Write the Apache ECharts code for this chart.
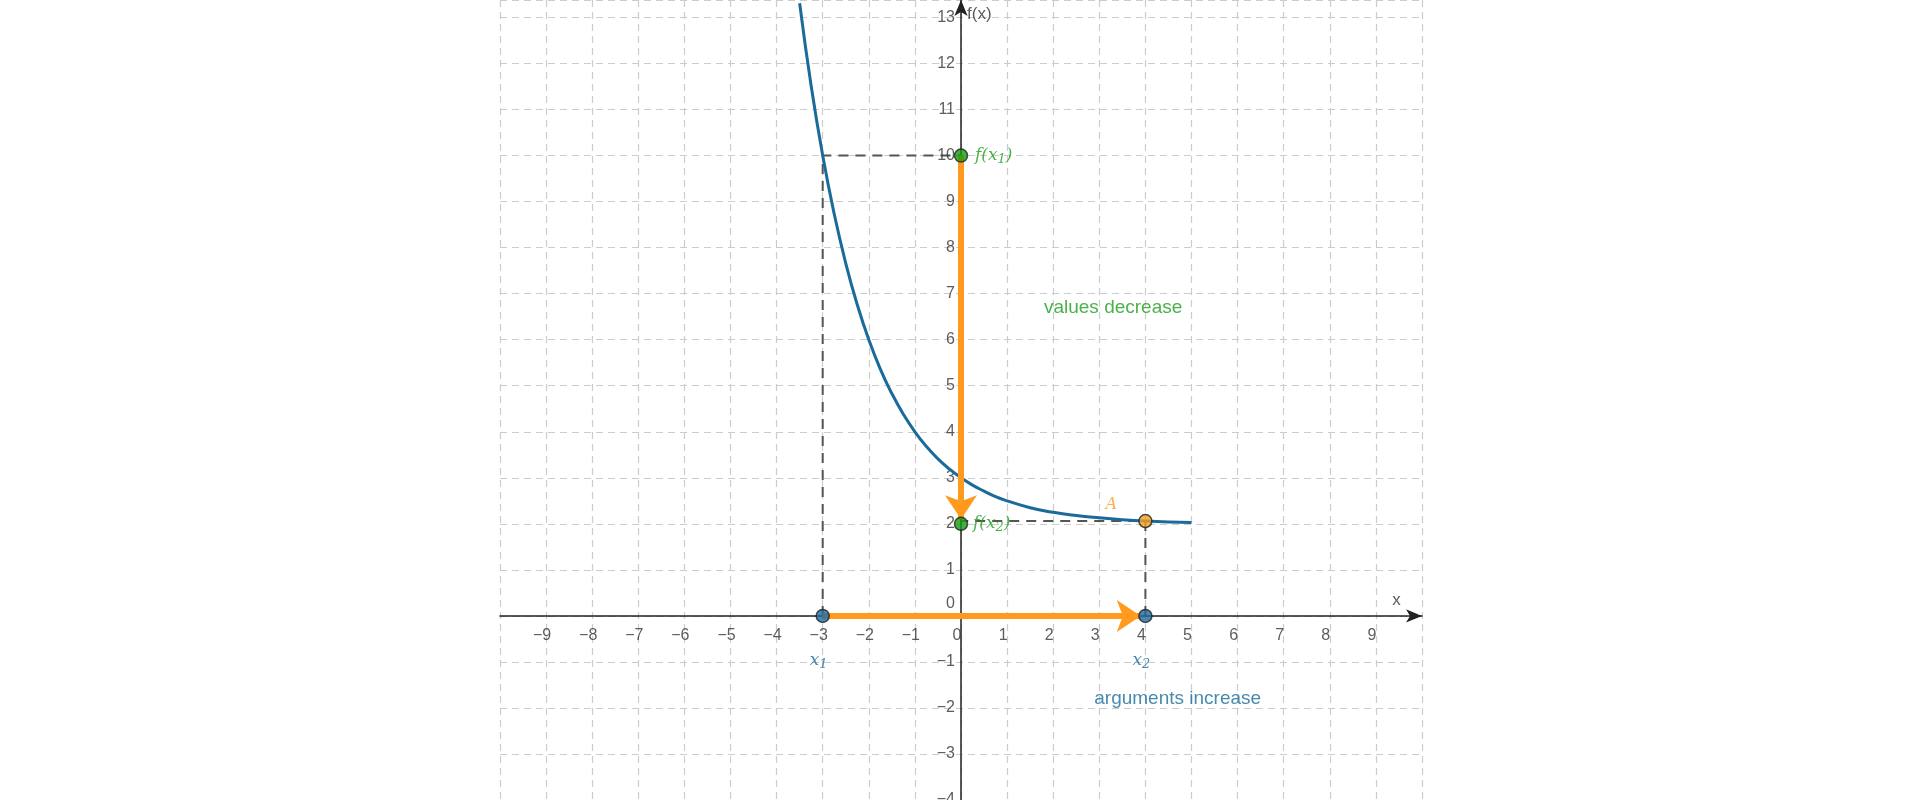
<!DOCTYPE html>
<html>
<head>
<meta charset="utf-8">
<title>f(x) decreasing</title>
<script src="https://cdn.jsdelivr.net/npm/echarts@6/dist/echarts.min.js"></script>
<style>html,body{margin:0;padding:0;background:#fff}#chart{width:1920px;height:800px}</style>
</head>
<body>
<div id="chart"></div>
<script>
// curve points
var curveX = [-3.5,-3.25,-3,-2.75,-2.5,-2.25,-2,-1.75,-1.5,-1.25,-1,-0.75,-0.5,-0.25,0,0.25,0.5,0.75,1,1.5,2,2.5,3,3.5,4,4.5,5];
var curveY = [13.31,11.51,10,8.73,7.66,6.76,6,5.36,4.83,4.38,4,3.68,3.41,3.19,3,2.84,2.71,2.59,2.5,2.35,2.25,2.18,2.13,2.09,2.06,2.04,2.03];
var xTicks = [-9,-8,-7,-6,-5,-4,-3,-2,-1,0,1,2,3,4,5,6,7,8,9];
var yTicks = [-4,-3,-2,-1,0,1,2,3,4,5,6,7,8,9,10,11,12,13];
var x1 = -3, x2 = 4;
var fx1 = 10, fx2 = 2.06;
var greenPts = [[0, fx1], [0, 2]];
var bluePts = [[x1, 0], [x2, 0]];
var pointA = [x2, fx2];

var blue = '#1a6b9a', orange = '#ff9a1f', green = '#1e9e1e';
var chart = echarts.init(document.getElementById('chart'));

function pts(list, color) {
  return { type: 'scatter', data: list, symbolSize: 13, z: 10,
    itemStyle: { color: color, borderColor: '#222', borderWidth: 1.5 } };
}
function num(v) { return v < 0 ? '\u2212' + (-v) : '' + v; }
var tickFont = { fontFamily: 'Liberation Sans', fontSize: 16, color: '#333' };
var sub = { fontStyle: 'italic', fontFamily: 'DejaVu Serif', fontSize: 13, verticalAlign: 'bottom', padding: [8, 0, 0, 0] };

chart.setOption({
  animation: false,
  grid: { left: 500, right: 498, top: 0, bottom: 0, containLabel: false, outerBoundsMode: 'none' },
  xAxis: {
    type: 'value', min: -10, max: 10, interval: 1,
    axisLine: { onZero: true, symbol: ['none', 'arrow'], symbolSize: [10, 16], lineStyle: { color: '#222', width: 1.5 } },
    axisTick: { show: false }, axisLabel: { show: false },
    splitLine: { lineStyle: { type: [7, 5], color: '#ccc', width: 1.2 } }
  },
  yAxis: {
    type: 'value', min: -4, max: 13.38, interval: 1,
    axisLine: { onZero: true, symbol: ['none', 'arrow'], symbolSize: [10, 16], lineStyle: { color: '#222', width: 1.5 } },
    axisTick: { show: false }, axisLabel: { show: false },
    splitLine: { lineStyle: { type: [7, 5], color: '#ccc', width: 1.2 } }
  },
  series: [
    { type: 'scatter', symbolSize: 0, silent: true, z: 3,
      data: xTicks.map(function (v) { return [v, 0]; }),
      label: Object.assign({ show: true, position: 'bottom', distance: 12, offset: [-4, 0],
        formatter: function (p) { return num(p.value[0]); } }, tickFont) },
    { type: 'scatter', symbolSize: 0, silent: true, z: 3,
      data: yTicks.filter(function (v) { return v !== 0; }).map(function (v) { return [0, v]; }),
      label: Object.assign({ show: true, position: 'left', distance: 6,
        formatter: function (p) { return num(p.value[1]); } }, tickFont) },
    { type: 'scatter', symbolSize: 0, silent: true, z: 3, data: [[0, 0]],
      label: Object.assign({ show: true, position: 'left', distance: 6, offset: [0, -12], formatter: '0' }, tickFont) },
    { type: 'scatter', symbolSize: 0, silent: true, z: 3, data: [[9.4, 0], [0, 13.38]],
      label: Object.assign({}, tickFont, { show: true, fontSize: 17,
        formatter: function (p) { return p.dataIndex === 0 ? 'x' : 'f(x)'; },
        position: 'insideTopLeft' }),
      labelLayout: function (p) {
        return p.dataIndex === 0 ? { x: p.rect.x - 2, y: p.rect.y - 24 } : { x: p.rect.x + 6, y: p.rect.y + 6 };
      } },
    { type: 'line', data: [[x1, 0], [x1, fx1], [0, fx1]], symbol: 'none',
      lineStyle: { color: '#555', width: 2, type: [10, 7] } },
    { type: 'line', data: [[x2, 0], [x2, fx2], [0, fx2]], symbol: 'none',
      lineStyle: { color: '#555', width: 2, type: [10, 7] } },
    { type: 'line', data: curveX.map(function (x, i) { return [x, curveY[i]]; }), symbol: 'none', smooth: true,
      lineStyle: { color: blue, width: 3 }, z: 4 },
    { type: 'lines', coordinateSystem: 'cartesian2d', z: 6,
      symbol: ['none', 'arrow'], symbolSize: [14, 24],
      lineStyle: { color: orange, width: 6, opacity: 1 },
      data: [{ coords: [[0, fx1], [0, 2.1]] }, { coords: [[x1, 0], [x2 - 0.1, 0]] }] },
    pts(greenPts, '#129c12'),
    pts(bluePts, '#1e6a9e'),
    pts([pointA], '#f5a020'),
    { type: 'scatter', symbolSize: 0, silent: true, z: 12,
      data: [
        { value: [0, fx1], label: { show: true, position: 'right', distance: 14,
          formatter: '{a|f(x}{s|1}{a|)}', rich: { a: { fontStyle: 'italic', fontFamily: 'DejaVu Serif', fontSize: 17, color: green }, s: Object.assign({ color: green }, sub) } } },
        { value: [0, 2], label: { show: true, position: 'right', distance: 12,
          formatter: '{a|f(x}{s|2}{a|)}', rich: { a: { fontStyle: 'italic', fontFamily: 'DejaVu Serif', fontSize: 17, color: green }, s: Object.assign({ color: green }, sub) } } },
        { value: [x1, 0], label: { show: true, position: 'bottom', distance: 34, offset: [-4, 0],
          formatter: '{a|x}{s|1}', rich: { a: { fontStyle: 'italic', fontFamily: 'DejaVu Serif', fontSize: 17, color: blue }, s: Object.assign({ color: blue }, sub) } } },
        { value: [x2, 0], label: { show: true, position: 'bottom', distance: 34, offset: [-4, 0],
          formatter: '{a|x}{s|2}', rich: { a: { fontStyle: 'italic', fontFamily: 'DejaVu Serif', fontSize: 17, color: blue }, s: Object.assign({ color: blue }, sub) } } },
        { value: pointA, label: { show: true, position: 'top', distance: 8, offset: [-34, 0],
          formatter: 'A', fontStyle: 'italic', fontFamily: 'DejaVu Serif', fontSize: 16, color: orange } },
        { value: [3.3, 6.7], label: { show: true, position: 'inside',
          formatter: 'values decrease', fontFamily: 'Liberation Sans', fontSize: 19, color: green } },
        { value: [4.7, -1.8], label: { show: true, position: 'inside',
          formatter: 'arguments increase', fontFamily: 'Liberation Sans', fontSize: 19, color: blue } }
      ] }
  ]
});
</script>
</body>
</html>
